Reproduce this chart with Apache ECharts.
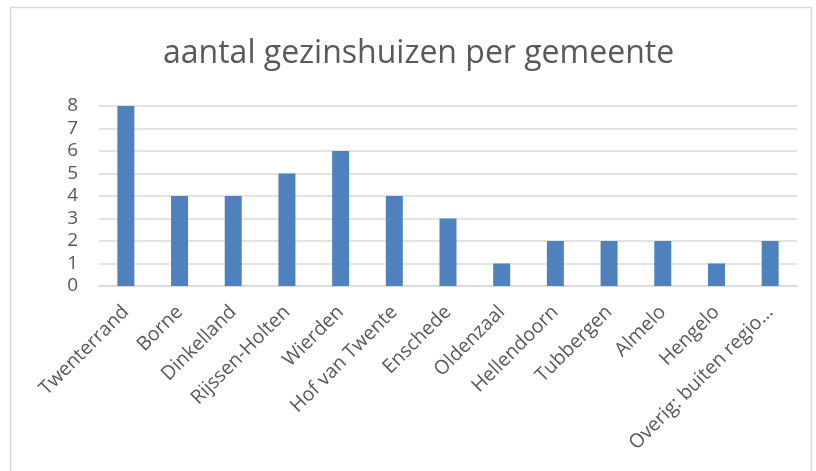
<!DOCTYPE html>
<html>
<head>
<meta charset="utf-8">
<script src="https://cdn.jsdelivr.net/npm/echarts@6/dist/echarts.min.js"></script>
<style>
  html, body { margin: 0; padding: 0; background: #fff; }
  #chart { width: 816px; height: 471px; }
</style>
</head>
<body>
<div id="chart"></div>
<script>
const titleText = 'aantal gezinshuizen per gemeente';
const gemeenten = ['Twenterrand', 'Borne', 'Dinkelland', 'Rijssen-Holten', 'Wierden', 'Hof van Twente',
  'Enschede', 'Oldenzaal', 'Hellendoorn', 'Tubbergen', 'Almelo', 'Hengelo', 'Overig: buiten regio…'];
const aantallen = [8, 4, 4, 5, 6, 4, 3, 1, 2, 2, 2, 1, 2];

const chart = echarts.init(document.getElementById('chart'));
const font = '"Open Sans", "Liberation Sans", sans-serif';

chart.setOption({
  animation: false,
  textStyle: { fontFamily: font },
  graphic: [{
    type: 'rect',
    shape: { x: 10.5, y: 7.5, width: 801, height: 480 },
    style: { fill: 'none', stroke: '#d9d9d9', lineWidth: 1.5 },
    silent: true
  }],
  title: {
    text: titleText,
    left: 158,
    top: 33,
    textStyle: { fontFamily: font, fontSize: 32, fontWeight: 'normal', color: '#595959' }
  },
  grid: { left: 99, right: 19, top: 106, bottom: 185, outerBoundsMode: 'none' },
  xAxis: {
    type: 'category',
    data: gemeenten,
    axisLine: { lineStyle: { color: '#d9d9d9', width: 1.5 } },
    axisTick: { show: false },
    axisLabel: {
      interval: 0,
      rotate: 45,
      margin: 23,
      fontSize: 19.5,
      color: '#595959',
      fontFamily: font
    }
  },
  yAxis: {
    type: 'value',
    min: 0,
    max: 8,
    interval: 1,
    axisLine: { show: false },
    axisTick: { show: false },
    splitLine: { lineStyle: { color: '#d9d9d9', width: 1.5 } },
    axisLabel: { fontSize: 19, color: '#595959', margin: 21, fontFamily: font }
  },
  series: [{
    type: 'bar',
    data: aantallen,
    barWidth: 17,
    itemStyle: { color: '#4f81bd' }
  }]
});
</script>
</body>
</html>
